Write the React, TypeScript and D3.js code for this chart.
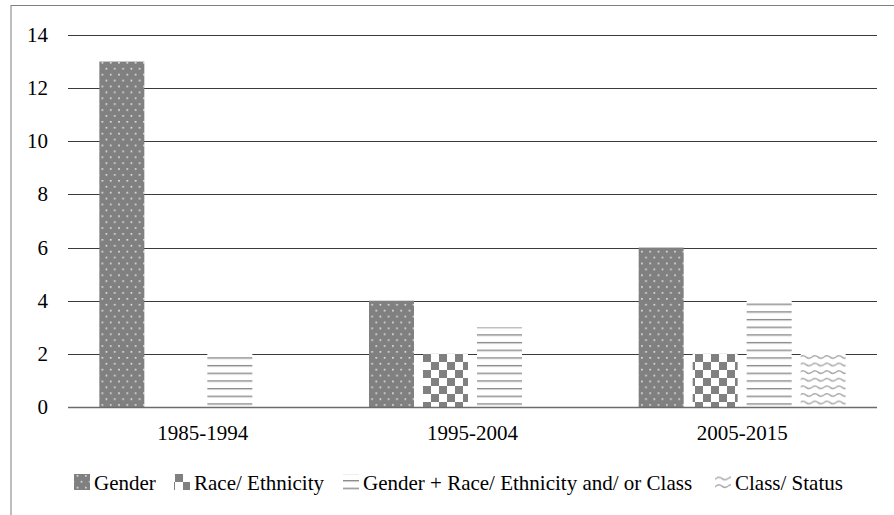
import React from "react";
import * as d3 from "d3";

const categories = ["1985-1994", "1995-2004", "2005-2015"];
const seriesNames = ["Gender", "Race/ Ethnicity", "Gender + Race/ Ethnicity and/ or Class", "Class/ Status"];
const genderValues = [13, 4, 6];
const raceValues = [0, 2, 2];
const mixedValues = [2, 3, 4];
const classValues = [0, 0, 2];
const yTicks = [0, 2, 4, 6, 8, 10, 12, 14];

const W = 894;
const H = 515;
const plot = { left: 68, right: 877, top: 35, bottom: 407 };
const FONT = "Liberation Serif";

const seriesValues = [genderValues, raceValues, mixedValues, classValues];
const patternIds = ["pGender", "pRace", "pMixed", "pClass"];
const legendX = [74, 174, 343, 715];

const textStyle: React.CSSProperties = { fontFamily: FONT, fontSize: "21px" };

export default function App() {
  const x = d3.scaleBand<string>().domain(categories).range([plot.left, plot.right]);
  const bw = x.bandwidth();
  const outer = bw * 0.1162;
  const xs = d3
    .scaleBand<string>()
    .domain(seriesNames)
    .range([outer, bw - outer])
    .paddingInner(0.1667)
    .paddingOuter(0);
  const y = d3.scaleLinear().domain([0, 14]).range([plot.bottom, plot.top]);

  const waveW = 12;
  const wavePath = `M0,3 Q3,0.5 6,3 T12,3`;

  return (
    <svg
      width={W}
      height={H}
      style={{ position: "absolute", left: 0, top: 0, display: "block", fontFamily: FONT }}
    >
      <defs>
        <pattern id="pGender" patternUnits="userSpaceOnUse" width={8.3} height={11.8} x={1} y={2}>
          <rect width={8.3} height={11.8} fill="#808080" />
          <rect x={1} y={1} width={1.6} height={1.6} fill="#e6e6e6" />
          <rect x={5.1} y={6.9} width={1.6} height={1.6} fill="#e6e6e6" />
        </pattern>
        <pattern id="pRace" patternUnits="userSpaceOnUse" width={16} height={16} x={423} y={354}>
          <rect width={16} height={16} fill="#ffffff" />
          <rect x={0} y={0} width={8} height={8} fill="#808080" />
          <rect x={8} y={8} width={8} height={8} fill="#808080" />
        </pattern>
        <pattern id="pMixed" patternUnits="userSpaceOnUse" width={20} height={7.67} x={0} y={326.6}>
          <rect width={20} height={7.67} fill="#ffffff" />
          <rect x={0} y={0} width={20} height={1.2} fill="#8a8a8a" />
          <rect x={0} y={1.2} width={20} height={0.8} fill="#c4c4c4" />
        </pattern>
        <pattern id="pClass" patternUnits="userSpaceOnUse" width={waveW} height={7.6} x={800} y={354}>
          <rect width={waveW} height={7.6} fill="#ffffff" />
          <path d={wavePath} fill="none" stroke="#a8a8a8" strokeWidth={1.4} />
        </pattern>
      </defs>

      <rect x={11} y={5.5} width={W + 20} height={H + 20} fill="#ffffff" stroke="#7f7f7f" strokeWidth={1} />

      {yTicks
        .filter((t) => t > 0)
        .map((t) => (
          <line
            key={"g" + t}
            x1={plot.left}
            x2={plot.right}
            y1={Math.round(y(t)) + 0.5}
            y2={Math.round(y(t)) + 0.5}
            stroke="#3a3a3a"
            strokeWidth={1}
          />
        ))}

      {categories.map((c, ci) =>
        seriesNames.map((s, si) => {
          const v = seriesValues[si][ci];
          if (!v) return null;
          const bx = (x(c) as number) + (xs(s) as number);
          return (
            <rect
              key={c + s}
              x={bx}
              y={y(v)}
              width={xs.bandwidth()}
              height={y(0) - y(v)}
              fill={`url(#${patternIds[si]})`}
            />
          );
        })
      )}

      <line
        x1={plot.left}
        x2={plot.right}
        y1={Math.round(y(0)) + 0.5}
        y2={Math.round(y(0)) + 0.5}
        stroke="#6b6b6b"
        strokeWidth={1.3}
      />

      {yTicks.map((t) => (
        <text
          key={"t" + t}
          x={48}
          y={y(t)}
          textAnchor="end"
          dominantBaseline="central"
          style={textStyle}
          fill="#000"
        >
          {t}
        </text>
      ))}

      {categories.map((c) => (
        <text
          key={"c" + c}
          x={(x(c) as number) + bw / 2}
          y={440}
          textAnchor="middle"
          style={textStyle}
          fill="#000"
        >
          {c}
        </text>
      ))}

      {seriesNames.map((s, si) => (
        <g key={"l" + s}>
          <rect x={legendX[si]} y={474} width={16} height={16} fill={`url(#${patternIds[si]})`} />
          <text x={legendX[si] + 20} y={489.5} style={textStyle} fill="#000">
            {s}
          </text>
        </g>
      ))}
    </svg>
  );
}
